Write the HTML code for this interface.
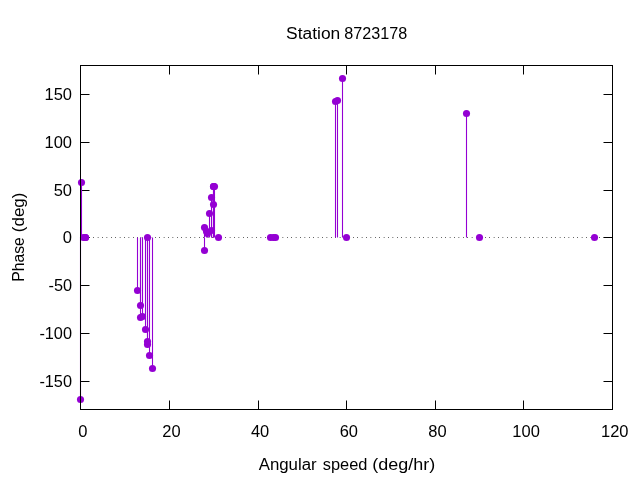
<!DOCTYPE html>
<html lang="en">
<head>
<meta charset="utf-8">
<title>Station 8723178</title>
<style>
html,body{margin:0;padding:0;background:#fff;}
body{width:640px;height:480px;overflow:hidden;}
svg{display:block;}
text{font-family:"Liberation Sans",sans-serif;font-size:16px;fill:#000;}
</style>
</head>
<body>
<svg width="640" height="480" viewBox="0 0 640 480">
<rect width="640" height="480" fill="#fff"/>
<line x1="80.2" y1="237.5" x2="612.5" y2="237.5" stroke="#000" stroke-width="1" stroke-dasharray="0.6 3.8"/>
<g stroke="#000" stroke-width="1" fill="none">
<path d="M80.50 409.5v-9M80.50 65.5v9"/>
<path d="M169.50 409.5v-9M169.50 65.5v9"/>
<path d="M258.50 409.5v-9M258.50 65.5v9"/>
<path d="M346.50 409.5v-9M346.50 65.5v9"/>
<path d="M435.50 409.5v-9M435.50 65.5v9"/>
<path d="M523.50 409.5v-9M523.50 65.5v9"/>
<path d="M612.50 409.5v-9M612.50 65.5v9"/>
<path d="M80.5 381.50h9M612.5 381.50h-9"/>
<path d="M80.5 333.50h9M612.5 333.50h-9"/>
<path d="M80.5 285.50h9M612.5 285.50h-9"/>
<path d="M80.5 237.50h9M612.5 237.50h-9"/>
<path d="M80.5 190.50h9M612.5 190.50h-9"/>
<path d="M80.5 142.50h9M612.5 142.50h-9"/>
<path d="M80.5 94.50h9M612.5 94.50h-9"/>
</g>
<text x="82.80" y="437" text-anchor="middle" textLength="9.2" lengthAdjust="spacingAndGlyphs">0</text>
<text x="171.47" y="437" text-anchor="middle" textLength="18.3" lengthAdjust="spacingAndGlyphs">20</text>
<text x="260.13" y="437" text-anchor="middle" textLength="18.3" lengthAdjust="spacingAndGlyphs">40</text>
<text x="348.80" y="437" text-anchor="middle" textLength="18.3" lengthAdjust="spacingAndGlyphs">60</text>
<text x="437.47" y="437" text-anchor="middle" textLength="18.3" lengthAdjust="spacingAndGlyphs">80</text>
<text x="526.13" y="437" text-anchor="middle" textLength="27.5" lengthAdjust="spacingAndGlyphs">100</text>
<text x="614.80" y="437" text-anchor="middle" textLength="27.5" lengthAdjust="spacingAndGlyphs">120</text>
<text x="72" y="387.10" text-anchor="end" textLength="32.6" lengthAdjust="spacingAndGlyphs">-150</text>
<text x="72" y="339.10" text-anchor="end" textLength="32.6" lengthAdjust="spacingAndGlyphs">-100</text>
<text x="72" y="291.10" text-anchor="end" textLength="23.5" lengthAdjust="spacingAndGlyphs">-50</text>
<text x="72" y="243.10" text-anchor="end" textLength="9.2" lengthAdjust="spacingAndGlyphs">0</text>
<text x="72" y="196.10" text-anchor="end" textLength="18.3" lengthAdjust="spacingAndGlyphs">50</text>
<text x="72" y="148.10" text-anchor="end" textLength="27.5" lengthAdjust="spacingAndGlyphs">100</text>
<text x="72" y="100.10" text-anchor="end" textLength="27.5" lengthAdjust="spacingAndGlyphs">150</text>
<g stroke="#9400d3" stroke-width="1.1" fill="none">
<line x1="80.50" y1="237.5" x2="80.50" y2="399.50"/>
<line x1="81.50" y1="237.5" x2="81.50" y2="182.50"/>
<line x1="137.50" y1="237.5" x2="137.50" y2="290.50"/>
<line x1="140.50" y1="237.5" x2="140.50" y2="317.50"/>
<line x1="140.50" y1="237.5" x2="140.50" y2="305.50"/>
<line x1="142.50" y1="237.5" x2="142.50" y2="316.50"/>
<line x1="145.50" y1="237.5" x2="145.50" y2="329.50"/>
<line x1="147.50" y1="237.5" x2="147.50" y2="341.50"/>
<line x1="147.50" y1="237.5" x2="147.50" y2="344.50"/>
<line x1="149.50" y1="237.5" x2="149.50" y2="355.50"/>
<line x1="152.50" y1="237.5" x2="152.50" y2="368.50"/>
<line x1="204.50" y1="237.5" x2="204.50" y2="227.50"/>
<line x1="204.50" y1="237.5" x2="204.50" y2="250.50"/>
<line x1="206.50" y1="237.5" x2="206.50" y2="231.50"/>
<line x1="207.50" y1="237.5" x2="207.50" y2="233.50"/>
<line x1="209.50" y1="237.5" x2="209.50" y2="213.50"/>
<line x1="211.50" y1="237.5" x2="211.50" y2="230.50"/>
<line x1="211.50" y1="237.5" x2="211.50" y2="197.50"/>
<line x1="213.50" y1="237.5" x2="213.50" y2="186.50"/>
<line x1="213.50" y1="237.5" x2="213.50" y2="204.50"/>
<line x1="213.50" y1="237.5" x2="213.50" y2="186.50"/>
<line x1="214.50" y1="237.5" x2="214.50" y2="186.50"/>
<line x1="335.50" y1="237.5" x2="335.50" y2="101.50"/>
<line x1="337.50" y1="237.5" x2="337.50" y2="100.50"/>
<line x1="342.50" y1="237.5" x2="342.50" y2="78.50"/>
<line x1="466.50" y1="237.5" x2="466.50" y2="113.50"/>
</g>
<g fill="#9400d3">
<circle cx="80.50" cy="399.50" r="3.55"/>
<circle cx="81.50" cy="182.50" r="3.55"/>
<circle cx="83.50" cy="237.50" r="3.55"/>
<circle cx="85.50" cy="237.50" r="3.55"/>
<circle cx="85.50" cy="237.50" r="3.55"/>
<circle cx="137.50" cy="290.50" r="3.55"/>
<circle cx="140.50" cy="317.50" r="3.55"/>
<circle cx="140.50" cy="305.50" r="3.55"/>
<circle cx="142.50" cy="316.50" r="3.55"/>
<circle cx="145.50" cy="329.50" r="3.55"/>
<circle cx="147.50" cy="341.50" r="3.55"/>
<circle cx="147.50" cy="344.50" r="3.55"/>
<circle cx="147.50" cy="237.50" r="3.55"/>
<circle cx="149.50" cy="355.50" r="3.55"/>
<circle cx="152.50" cy="368.50" r="3.55"/>
<circle cx="204.50" cy="227.50" r="3.55"/>
<circle cx="204.50" cy="250.50" r="3.55"/>
<circle cx="206.50" cy="231.50" r="3.55"/>
<circle cx="207.50" cy="233.50" r="3.55"/>
<circle cx="209.50" cy="213.50" r="3.55"/>
<circle cx="211.50" cy="230.50" r="3.55"/>
<circle cx="211.50" cy="197.50" r="3.55"/>
<circle cx="213.50" cy="186.50" r="3.55"/>
<circle cx="213.50" cy="204.50" r="3.55"/>
<circle cx="213.50" cy="186.50" r="3.55"/>
<circle cx="214.50" cy="186.50" r="3.55"/>
<circle cx="218.50" cy="237.50" r="3.55"/>
<circle cx="270.50" cy="237.50" r="3.55"/>
<circle cx="273.50" cy="237.50" r="3.55"/>
<circle cx="275.50" cy="237.50" r="3.55"/>
<circle cx="335.50" cy="101.50" r="3.55"/>
<circle cx="337.50" cy="100.50" r="3.55"/>
<circle cx="342.50" cy="78.50" r="3.55"/>
<circle cx="346.50" cy="237.50" r="3.55"/>
<circle cx="466.50" cy="113.50" r="3.55"/>
<circle cx="479.50" cy="237.50" r="3.55"/>
<circle cx="594.50" cy="237.50" r="3.55"/>
</g>
<rect x="80.5" y="65.5" width="532" height="344" fill="none" stroke="#000" stroke-width="1"/>
<text y="39"><tspan x="286.05" textLength="54.20" lengthAdjust="spacingAndGlyphs">Station</tspan> <tspan x="344.35" textLength="62.90" lengthAdjust="spacingAndGlyphs">8723178</tspan></text>
<text y="469.8"><tspan x="258.70" textLength="58.00" lengthAdjust="spacingAndGlyphs">Angular</tspan> <tspan x="322.80" textLength="44.60" lengthAdjust="spacingAndGlyphs">speed</tspan> <tspan x="372.30" textLength="62.90" lengthAdjust="spacingAndGlyphs">(deg/hr)</tspan></text>
<text transform="translate(23.9 281.7) rotate(-90)" y="0"><tspan x="0.00" textLength="44.50" lengthAdjust="spacingAndGlyphs">Phase</tspan> <tspan x="49.50" textLength="39.70" lengthAdjust="spacingAndGlyphs">(deg)</tspan></text>
</svg>
</body>
</html>
